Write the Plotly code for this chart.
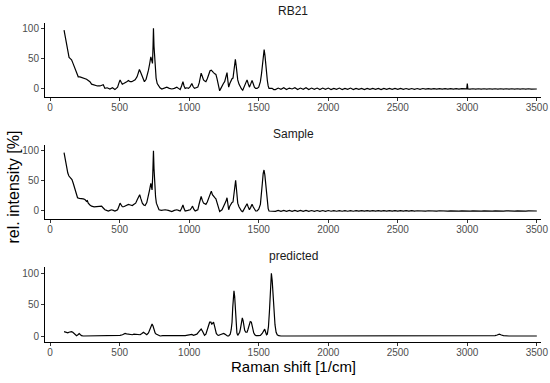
import plotly.graph_objects as go

# ---------------- data ----------------
rb21_shift_main = [
    100, 110, 118, 128, 136, 145, 154, 163, 173, 182,
    190, 202, 214, 226, 238, 250, 262, 274, 286, 298,
    310, 322, 340, 358, 370, 382, 394, 410, 430, 448,
    466, 485, 495, 503, 511, 519, 529, 539, 551, 563,
    575, 587, 599, 611, 625, 635, 642, 650, 659, 668,
    678, 690, 698, 707, 716, 724, 730, 736, 740, 743,
    747, 752, 757, 762, 770, 779, 790, 803, 820, 839,
    857, 875, 893, 911, 923, 935, 945, 955, 963, 971,
    983, 995, 1007, 1019, 1028, 1038, 1050, 1062, 1072, 1080,
    1086, 1094, 1103, 1112, 1120, 1130, 1139, 1150, 1159, 1167,
    1175, 1184, 1192, 1200, 1207, 1213, 1219, 1228, 1236, 1246,
    1255, 1262, 1268, 1272, 1278, 1284, 1292, 1301, 1308, 1315,
    1320, 1326, 1332, 1338, 1343, 1349, 1358, 1368, 1376, 1385,
    1392, 1399, 1408, 1416, 1424, 1433, 1442, 1452, 1460, 1469,
    1478, 1488, 1500, 1512, 1520, 1526, 1533, 1539, 1545, 1550,
    1555, 1562, 1568, 1574, 1585, 1596, 1608,
]
rb21_int_main = [
    97, 85, 72, 62, 52, 50, 48, 43, 37, 31,
    26, 20, 20, 19, 19, 18, 16, 14, 12, 8,
    7, 6, 5, 5, 6, 7, 1, 2, 0, 2,
    -1, 3, 10, 15, 11, 8, 9, 10, 12, 14,
    12, 12, 14, 15, 20, 28, 32, 28, 23, 17,
    12, 16, 22, 31, 42, 53, 48, 42, 70, 100,
    70, 48, 30, 18, 9, 5, 2, 0, 2, 3,
    1, 0, 1, 3, 1, -1, 5, 12, 5, 1,
    2, 1, 4, 9, 4, 1, 2, 3, 10, 20,
    26, 21, 15, 13, 12, 17, 24, 30, 31, 28,
    27, 25, 24, 17, 10, 3, -3, 1, 6, 9,
    12, 18, 24, 27, 14, 3, 9, 15, 17, 18,
    28, 40, 49, 38, 24, 15, 8, 3, 0, -2,
    2, 6, 11, 15, 9, 3, 8, 14, 9, 3,
    1, 1, 3, 12, 25, 42, 58, 65, 55, 40,
    31, 14, 5, 1, 1, 1, -1,
]

sample_shift_main = [
    100, 110, 118, 127, 135, 142, 149, 157, 166, 175,
    183, 190, 197, 210, 226, 238, 250, 262, 268, 274,
    286, 298, 316, 334, 352, 370, 382, 394, 406, 418,
    430, 442, 454, 466, 476, 485, 495, 503, 511, 519,
    529, 539, 551, 563, 577, 591, 603, 615, 627, 636,
    644, 653, 663, 673, 683, 695, 707, 716, 724, 729,
    733, 738, 743, 747, 752, 758, 764, 773, 783, 800,
    827, 850, 875, 893, 911, 923, 935, 945, 955, 963,
    971, 990, 1007, 1016, 1024, 1033, 1043, 1052, 1062, 1072,
    1080, 1086, 1094, 1103, 1112, 1120, 1130, 1139, 1150, 1159,
    1167, 1175, 1184, 1192, 1200, 1207, 1213, 1219, 1228, 1236,
    1246, 1255, 1264, 1272, 1278, 1284, 1292, 1301, 1308, 1315,
    1322, 1328, 1334, 1340, 1345, 1349, 1358, 1368, 1376, 1385,
    1392, 1399, 1408, 1416, 1424, 1433, 1442, 1452, 1460, 1469,
    1478, 1488, 1500, 1512, 1520, 1526, 1532, 1538, 1544, 1550,
    1555, 1562, 1568, 1574, 1585, 1596, 1608,
]
sample_int_main = [
    97, 84, 71, 63, 58, 56, 55, 52, 46, 40,
    33, 27, 22, 21, 21, 20, 19, 16, 17, 13,
    10, 8, 7, 7, 7, 8, 5, 2, 1, 0,
    1, 2, 1, 0, 1, 2, 8, 13, 10, 7,
    7, 8, 10, 11, 10, 9, 11, 13, 19, 24,
    27, 20, 13, 10, 9, 14, 24, 36, 46, 40,
    35, 60, 100, 70, 41, 24, 13, 6, 2, 1,
    2, 1, -1, 1, 2, 1, 0, 4, 10, 4,
    0, 1, 2, 5, 8, 3, 0, 1, 2, 12,
    20, 24, 18, 13, 12, 11, 15, 20, 29, 33,
    27, 24, 22, 20, 15, 11, 4, -1, 0, 2,
    7, 11, 16, 22, 11, 2, 8, 13, 14, 15,
    30, 45, 51, 36, 20, 13, 7, 2, 0, -1,
    2, 5, 9, 12, 7, 2, 6, 11, 7, 2,
    0, 0, 3, 11, 26, 46, 62, 68, 60, 42,
    30, 13, 4, 0, 0, 0, 0,
]

tail_shift = [
    1620, 1640, 1660, 1680, 1700, 1720, 1740, 1760, 1780, 1800,
    1820, 1840, 1860, 1880, 1900, 1920, 1940, 1960, 1980, 2000,
    2020, 2040, 2060, 2080, 2100, 2120, 2140, 2160, 2180, 2200,
    2220, 2240, 2260, 2280, 2300, 2320, 2340, 2360, 2380, 2400,
    2420, 2440, 2460, 2480, 2500, 2520, 2540, 2560, 2580, 2600,
    2620, 2640, 2660, 2680, 2700, 2720, 2740, 2760, 2780, 2800,
    2820, 2840, 2860, 2880, 2900, 2920, 2940, 2960, 2980, 2996,
    3000, 3004, 3020, 3040, 3060, 3080, 3100, 3120, 3140, 3160,
    3180, 3200, 3220, 3240, 3260, 3280, 3300, 3320, 3340, 3360,
    3380, 3400, 3420, 3440, 3460, 3480, 3500,
]
rb21_int_tail = [
    -1, 1.5, -0.5, 2, -1, 1.5, 0, 2, -1, 1.5,
    -0.5, 2, -1, 1.5, -0.5, 1.5, -1, 1.5, -0.5, 1.5,
    -1, 1, -0.5, 1.5, -1, 1, -0.5, 1.5, -1, 1,
    -0.5, 1, -1, 1, -0.5, 1, -0.5, 1, -1, 1,
    -0.5, 1, -0.5, 1, -0.5, 1, -0.5, 0.8, -0.5, 0.8,
    -0.5, 0.8, -0.5, 0.8, -0.3, 0.6, -0.3, 0.6, -0.3, 0.6,
    -0.3, 0.5, -0.3, 0.5, -0.3, 0.5, -0.3, 0.5, -0.3, 0.2,
    9, 0.2, -0.3, 0.4, -0.3, 0.4, -0.3, 0.4, -0.3, 0.4,
    -0.3, 0.4, -0.3, 0.4, -0.3, 0.4, -0.3, 0.4, -0.3, 0.4,
    -0.3, 0.4, -0.3, 0.4, -0.3, 0.4, 0,
]
sample_int_tail = [
    -0.5, 1, -0.5, 1, -0.5, 1, -0.5, 1, -0.5, 1,
    -0.5, 1, -0.5, 0.8, -0.5, 0.8, -0.5, 0.8, -0.5, 0.8,
    -0.4, 0.7, -0.4, 0.7, -0.4, 0.7, -0.4, 0.7, -0.4, 0.7,
    -0.3, 0.6, -0.3, 0.6, -0.3, 0.6, -0.3, 0.6, -0.3, 0.6,
    -0.3, 0.5, -0.3, 0.5, -0.3, 0.5, -0.3, 0.5, -0.3, 0.5,
    -0.2, 0.4, -0.2, 0.4, -0.2, 0.4, -0.2, 0.4, -0.2, 0.4,
    -0.2, 0.3, -0.2, 0.3, -0.2, 0.3, -0.2, 0.3, -0.2, 0,
    0.2, 0, -0.2, 0.3, -0.2, 0.3, -0.2, 0.3, -0.2, 0.3,
    -0.2, 0.3, -0.2, 0.3, -0.2, 0.3, -0.2, 0.3, -0.2, 0.3,
    -0.2, 0.3, -0.2, 0.3, -0.2, 0.3, 0,
]

pred_shift = [
    100, 109, 118, 127, 135, 145, 154, 163, 173, 181,
    190, 200, 209, 218, 226, 238, 260, 300, 350, 400,
    450, 480, 503, 520, 539, 550, 563, 577, 591, 603,
    615, 630, 647, 660, 671, 683, 695, 707, 719, 726,
    733, 740, 747, 755, 762, 775, 791, 810, 827, 850,
    880, 920, 971, 990, 1007, 1019, 1031, 1043, 1055, 1070,
    1080, 1086, 1095, 1103, 1110, 1120, 1130, 1139, 1147, 1156,
    1162, 1168, 1175, 1182, 1188, 1195, 1204, 1212, 1222, 1231,
    1240, 1248, 1256, 1265, 1275, 1284, 1295, 1302, 1308, 1313,
    1318, 1322, 1327, 1332, 1337, 1343, 1349, 1356, 1363, 1368,
    1375, 1382, 1388, 1393, 1399, 1407, 1416, 1422, 1430, 1439,
    1447, 1452, 1458, 1464, 1472, 1481, 1495, 1512, 1525, 1537,
    1543, 1550, 1556, 1562, 1570, 1577, 1584, 1591, 1597, 1604,
    1610, 1617, 1625, 1633, 1644, 1660, 1700, 2000, 2500, 3000,
    3080, 3150, 3200, 3215, 3230, 3245, 3260, 3300, 3400, 3500,
]
pred_int = [
    7, 6, 5, 5, 6, 7, 7, 6, 4, 2,
    0.5, 2, 4, 2, 0.5, 0, 0, 0, 0, 0,
    0, 0.5, 1, 2, 4, 3.5, 3, 2, 2, 3,
    3, 2, 2, 4, 6, 4, 2, 5, 11, 17,
    19, 16, 9, 5, 3, 1, 0, 0.5, 0.5, 0,
    0, 0, 0.5, 1.5, 2.5, 2.5, 1, 1.5, 3, 7,
    10, 11, 8, 4, 1, 3, 10, 18, 22, 22,
    19, 20, 22, 16, 9, 4, 1.5, 1, 2, 3,
    4, 4, 3, 1, 0, 0, 3, 10, 22, 45,
    66, 72, 63, 38, 17, 5, 1, 3, 6, 11,
    22, 29, 24, 15, 9, 6, 6, 10, 18, 23,
    22, 16, 10, 5, 2, 0.5, 0.5, 1, 4, 10,
    11, 6, 2, 3, 15, 39, 75, 100, 88, 60,
    38, 18, 6, 2, 0.5, 0, 0, 0, 0, 0,
    0.5, 0.3, 0.5, 1.5, 3, 1.5, 0.5, 0, 0, 0,
]

panel_titles = ["RB21", "Sample", "predicted"]
x_ticks = [0, 500, 1000, 1500, 2000, 2500, 3000, 3500]
y_ticks = [0, 50, 100]

rb21_shift = rb21_shift_main + tail_shift
rb21_int = rb21_int_main + rb21_int_tail
sample_shift = sample_shift_main + tail_shift
sample_int = sample_int_main + sample_int_tail

# ---------------- figure ----------------
W, H = 550, 383
FONT = "Liberation Sans, Arial, sans-serif"

fig = go.Figure()
series = [(rb21_shift, rb21_int), (sample_shift, sample_int), (pred_shift, pred_int)]
for i, (xs, ys) in enumerate(series):
    sfx = "" if i == 0 else str(i + 1)
    fig.add_trace(go.Scatter(x=xs, y=ys, mode="lines", xaxis="x" + sfx, yaxis="y" + sfx,
                             line=dict(color="black", width=1.2), hoverinfo="skip",
                             showlegend=False))

# panel pixel geometry (top, bottom, y-range)
panels = [(22.7, 97.3, [-13.7, 109.2]), (145.0, 219.0, [-13.3, 109.5]), (267.3, 341.7, [-9.1, 109.6])]
x_left, x_right = 45, 541

layout = dict(width=W, height=H, margin=dict(l=0, r=0, t=0, b=0),
              plot_bgcolor="white", paper_bgcolor="white", showlegend=False,
              font=dict(family=FONT, color="black"))
tickfont = dict(family=FONT, size=10, color="#4D4D4D")
for i, (top, bot, yr) in enumerate(panels):
    sfx = "" if i == 0 else str(i + 1)
    layout["xaxis" + sfx] = dict(domain=[x_left / W, x_right / W], range=[-37, 3530],
                                 anchor="y" + sfx, tickvals=x_ticks, ticks="outside", ticklen=3,
                                 tickwidth=1, tickcolor="#333333", showline=True, linecolor="black",
                                 linewidth=1, showgrid=False, zeroline=False, tickfont=tickfont,
                                 ticklabelstandoff=-2,
                                 automargin=False, fixedrange=True)
    layout["yaxis" + sfx] = dict(domain=[1 - bot / H, 1 - top / H], range=yr,
                                 anchor="x" + sfx, tickvals=y_ticks, ticks="outside", ticklen=3,
                                 tickwidth=1, tickcolor="#333333", showline=True, linecolor="black",
                                 linewidth=1, showgrid=False, zeroline=False, tickfont=tickfont,
                                 automargin=False, fixedrange=True)

annotations = []
title_y = [11, 134, 256]
for t, ty in zip(panel_titles, title_y):
    annotations.append(dict(text=t, x=293 / W, y=1 - ty / H, xref="paper", yref="paper",
                            showarrow=False, xanchor="center", yanchor="middle",
                            font=dict(family=FONT, size=12, color="#1A1A1A")))
annotations.append(dict(text="Raman shift [1/cm]", x=293 / W, y=1 - 366 / H, xref="paper",
                        yref="paper", showarrow=False, xanchor="center", yanchor="middle",
                        font=dict(family=FONT, size=15, color="black")))
annotations.append(dict(text="rel. intensity [%]", x=12.5 / W, y=1 - 187 / H, xref="paper",
                        yref="paper", showarrow=False, xanchor="center", yanchor="middle",
                        textangle=-90, font=dict(family=FONT, size=16, color="black")))
layout["annotations"] = annotations

fig.update_layout(**layout)
fig.write_html("out.html", config={"displayModeBar": False},
               post_script="document.body.style.margin='0';document.body.style.overflow='hidden';")
